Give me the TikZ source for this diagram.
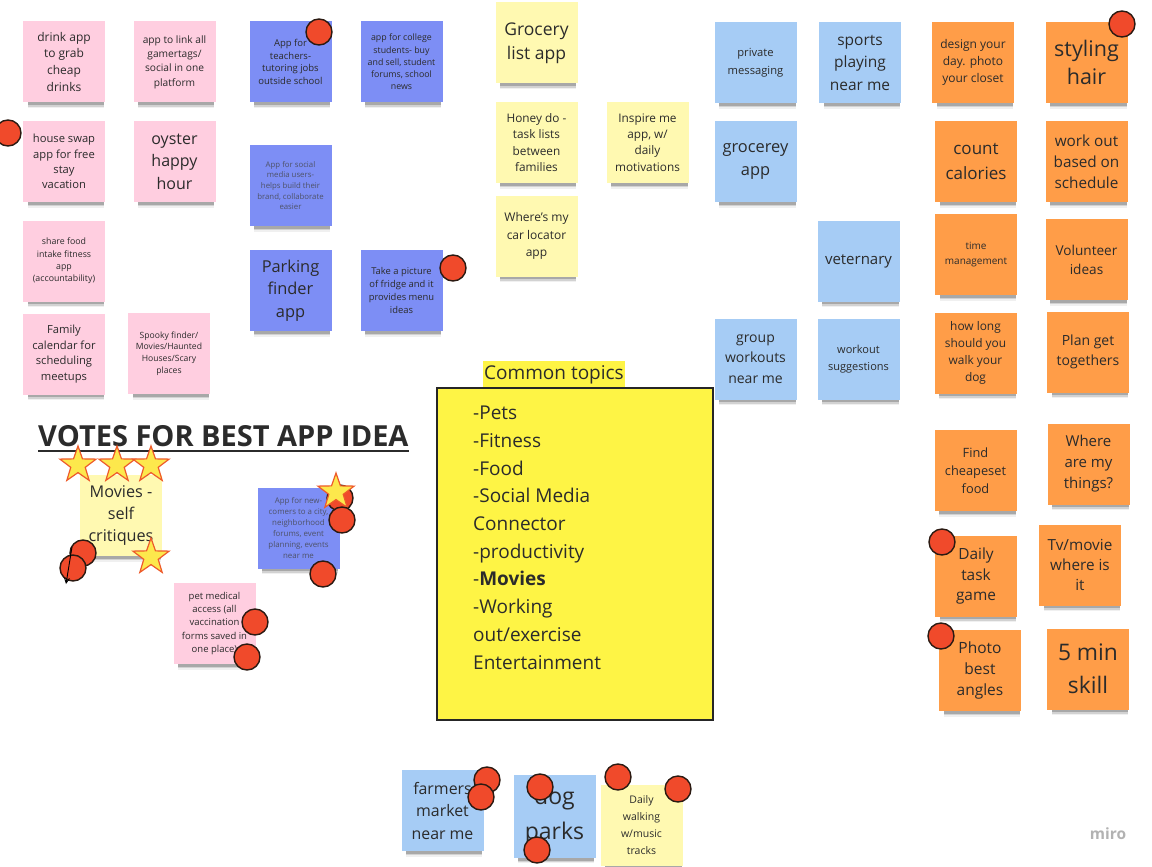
\documentclass[tikz,border=0pt]{standalone}
\usepackage{fontspec}
\setmainfont{Open Sans}
\usetikzlibrary{shapes.geometric,shadows,arrows.meta}
\definecolor{npink}{HTML}{FFCEE0}
\definecolor{nindigo}{HTML}{7D8EF5}
\definecolor{nyellow}{HTML}{FFF9B1}
\definecolor{nblue}{HTML}{A6CCF5}
\definecolor{norange}{HTML}{FF9D48}
\definecolor{topicy}{HTML}{FEF445}
\definecolor{dotred}{HTML}{F04A2B}
\definecolor{dotedge}{HTML}{2B1A12}
\definecolor{starfill}{HTML}{FDE84C}
\definecolor{staredge}{HTML}{EE5A2A}
\definecolor{ink}{HTML}{2B2B2B}
\definecolor{softink}{HTML}{4E5268}
\newcommand\fs[2]{\fontsize{#1pt}{#2pt}\selectfont}
\begin{document}
\begin{tikzpicture}[x=1pt,y=-1pt,
  note/.style={rectangle, minimum width=82pt, minimum height=81pt, inner sep=0pt,
    align=center, text=ink,
    general shadow={shadow xshift=2pt, shadow yshift=-9pt, shadow scale=0.93, fill=black, opacity=0.06},
    general shadow={shadow xshift=2pt, shadow yshift=-7.5pt, shadow scale=0.93, fill=black, opacity=0.12},
    general shadow={shadow xshift=2pt, shadow yshift=-6pt, shadow scale=0.93, fill=black, opacity=0.2}},
  pinkn/.style={note, fill=npink},
  indn/.style={note, fill=nindigo},
  yeln/.style={note, fill=nyellow},
  blun/.style={note, fill=nblue},
  orn/.style={note, fill=norange},
  dot/.style={circle, fill=dotred, draw=dotedge, line width=1.4pt, minimum size=26pt, inner sep=0pt},
  vstar/.style={star, star points=5, star point ratio=2.5, minimum size=38pt, inner sep=0pt,
    fill=starfill, draw=staredge, line width=1.2pt}
]
\useasboundingbox (0,0) rectangle (1152,867);
\fill[white] (0,0) rectangle (1152,867);

% pink
\node[pinkn, font={\fs{12}{17}}] (p1) at (64,62) {drink app\\to grab\\cheap\\drinks};
\node[pinkn, font={\fs{10.2}{14.3}}] (p2) at (174.5,62) {app to link all\\gamertags/\\social in one\\platform};
\node[pinkn, font={\fs{11.2}{15.3}}] (p3) at (64,161.5) {house swap\\app for free\\stay\\vacation};
\node[pinkn, font={\fs{16}{22.5}}] (p4) at (174.5,161.5) {oyster\\happy\\hour};
\node[pinkn, font={\fs{8.8}{12.3}}] (p5) at (64,261) {share food\\intake fitness\\app\\(accountability)};
\node[pinkn, font={\fs{11.2}{15.5}}] (p6) at (64,354) {Family\\calendar for\\scheduling\\meetups};
\node[pinkn, font={\fs{8.6}{11.8}}] (p7) at (169,353.5) {Spooky finder/\\Movies/Haunted\\Houses/Scary\\places};

% indigo
\node[indn, font={\fs{9.5}{12.7}}] (b1) at (290.5,62) {App for\\teachers-\\tutoring jobs\\outside school};
\node[indn, font={\fs{8.8}{12.2}}] (b2) at (401.5,62) {app for college\\students- buy\\and sell, student\\forums, school\\news};
\node[indn, font={\fs{7.8}{10.6}}, text=softink] (b3) at (290.5,185.5) {App for social\\media users-\\helps build their\\brand, collaborate\\easier};
\node[indn, font={\fs{16.4}{22.5}}] (b4) at (290.5,290.5) {Parking\\finder\\app};
\node[indn, font={\fs{9.4}{13}}] (b5) at (401.5,290.5) {Take a picture\\of fridge and it\\provides menu\\ideas};

% pale yellow
\node[yeln, font={\fs{17.5}{24}}] (y1) at (536.5,43) {Grocery\\list app};
\node[yeln, font={\fs{11.8}{16.4}}] (y2) at (536.5,142.5) {Honey do -\\task lists\\between\\families};
\node[yeln, font={\fs{11.8}{16.4}}] (y3) at (647.5,142.5) {Inspire me\\app, w/\\daily\\motivations};
\node[yeln, font={\fs{12}{17.2}}] (y4) at (536.5,236) {Where's my\\car locator\\app};

% light blue
\node[blun, font={\fs{11.2}{18}}] (l1) at (755.5,62.5) {private\\messaging};
\node[blun, font={\fs{15.5}{22.5}}] (l2) at (860,62.5) {sports\\playing\\near me};
\node[blun, font={\fs{16.4}{23}}] (l3) at (755.5,161.5) {grocerey\\app};
\node[blun, font={\fs{15}{20}}] (l4) at (858.5,261) {veternary};
\node[blun, font={\fs{14}{20.5}}] (l5) at (755.5,359) {group\\workouts\\near me};
\node[blun, font={\fs{11}{16.7}}] (l6) at (858.5,359) {workout\\suggestions};

% orange
\node[orn, font={\fs{12}{17}}] (o1) at (973,62.5) {design your\\day. photo\\your closet};
\node[orn, font={\fs{21.5}{28}}] (o2) at (1086.5,62.5) {styling\\hair};
\node[orn, font={\fs{17}{24.7}}] (o3) at (976,161.5) {count\\calories};
\node[orn, font={\fs{15.3}{21}}] (o4) at (1086.5,161.5) {work out\\based on\\schedule};
\node[orn, font={\fs{10}{14.3}}] (o5) at (976,254.5) {time\\management};
\node[orn, font={\fs{13.6}{19}}] (o6) at (1086.5,259.5) {Volunteer\\ideas};
\node[orn, font={\fs{11.9}{17}}] (o7) at (975.5,353) {how long\\should you\\walk your\\dog};
\node[orn, font={\fs{14}{19.3}}] (o8) at (1088,352) {Plan get\\togethers};
\node[orn, font={\fs{12.8}{18.3}}] (o9) at (975.5,470.5) {Find\\cheapeset\\food};
\node[orn, font={\fs{15}{21}}] (o10) at (1088.5,464) {Where\\are my\\things?};
\node[orn, font={\fs{15.4}{20.8}}] (o11) at (976,576) {Daily\\task\\game};
\node[orn, font={\fs{15.3}{20.3}}] (o12) at (1080,565) {Tv/movie\\where is\\it};
\node[orn, font={\fs{15.5}{21}}] (o13) at (980,670.5) {Photo\\best\\angles};
\node[orn, font={\fs{22.8}{32.7}}] (o14) at (1088,669) {5 min\\skill};

% votes area
\node[font={\fs{29}{34}\bfseries}, text=ink, inner sep=0pt, anchor=base west] (title) at (38,446) {VOTES FOR BEST APP IDEA};
\draw[ink, line width=2pt] ([yshift=-4.5pt]title.base west) -- ([yshift=-4.5pt]title.base east);
\node[yeln, font={\fs{16.2}{22}}] (v1) at (121,515.5) {Movies -\\self\\critiques};
\node[indn, font={\fs{7.9}{11}}, text=softink] (v2) at (298.5,528) {App for new-\\comers to a city,\\neighborhood\\forums, event\\planning, events\\near me};
\node[pinkn, font={\fs{9.5}{13.3}}] (v3) at (214.5,623.5) {pet medical\\access (all\\vaccination\\forms saved in\\one place)};

% bottom row
\node[blun, font={\fs{15.9}{22.5}}] (f1) at (442.5,810.5) {farmers\\market\\near me};
\node[blun, font={\fs{23}{35}}, minimum height=83pt] (f2) at (554.5,816.5) {dog\\parks};
\node[yeln, font={\fs{10.5}{17}}] (f3) at (641.5,825) {Daily\\walking\\w/music\\tracks};

% common topics
\node[fill=topicy, text=ink, font={\fs{19}{24}}, inner xsep=1pt, inner ysep=0pt, minimum height=27pt] (ctl) at (554,374.5) {Common topics};
\node[rectangle, fill=topicy, draw=black!85, line width=1.5pt, minimum width=276pt, minimum height=332pt] (ctbox) at (575,554) {};
\node[anchor=north west, align=left, text=ink, inner sep=0pt, font={\fs{19}{27.7}}] (ctlist) at (473,406)
  {-Pets\\-Fitness\\-Food\\-Social Media\\Connector\\-productivity\\-\textbf{Movies}\\-Working\\out/exercise\\Entertainment};

% red dots
\node[dot] (d1) at (8,133) {};
\node[dot] (d2) at (319,32) {};
\node[dot] (d3) at (453,268) {};
\node[dot] (d4) at (1122,24) {};
\node[dot] (d5) at (942,542) {};
\node[dot] (d6) at (941,636) {};
\node[dot] (d7) at (83,553) {};
\node[dot] (d8) at (73,568) {};
\node[dot] (d9) at (340,498) {};
\node[vstar] (s5) at (336,492) {};
\node[dot] (d10) at (342,520) {};
\node[dot] (d11) at (323,574) {};
\node[dot] (d12) at (255,622) {};
\node[dot] (d13) at (247,657) {};
\node[dot] (d14) at (487,780) {};
\node[dot] (d15) at (481,797) {};
\node[dot] (d16) at (540,787) {};
\node[dot] (d17) at (537,850) {};
\node[dot] (d18) at (618,777) {};
\node[dot] (d19) at (678,789) {};

% stars
\node[vstar] (s1) at (78,465) {};
\node[vstar] (s2) at (117,465) {};
\node[vstar] (s3) at (151,465) {};
\node[vstar] (s4) at (151,557) {};

% small arrow
\coordinate (a1) at (72,547);
\coordinate (a2) at (66,584);
\draw[black, line width=0.9pt, -{Straight Barb[length=5pt,width=5pt]}] (a1) -- (a2);

% watermark
\node[font={\fs{15.5}{18}\bfseries}, text=black!30, inner sep=0pt] (miro) at (1108,834) {miro};
\end{tikzpicture}
\end{document}
